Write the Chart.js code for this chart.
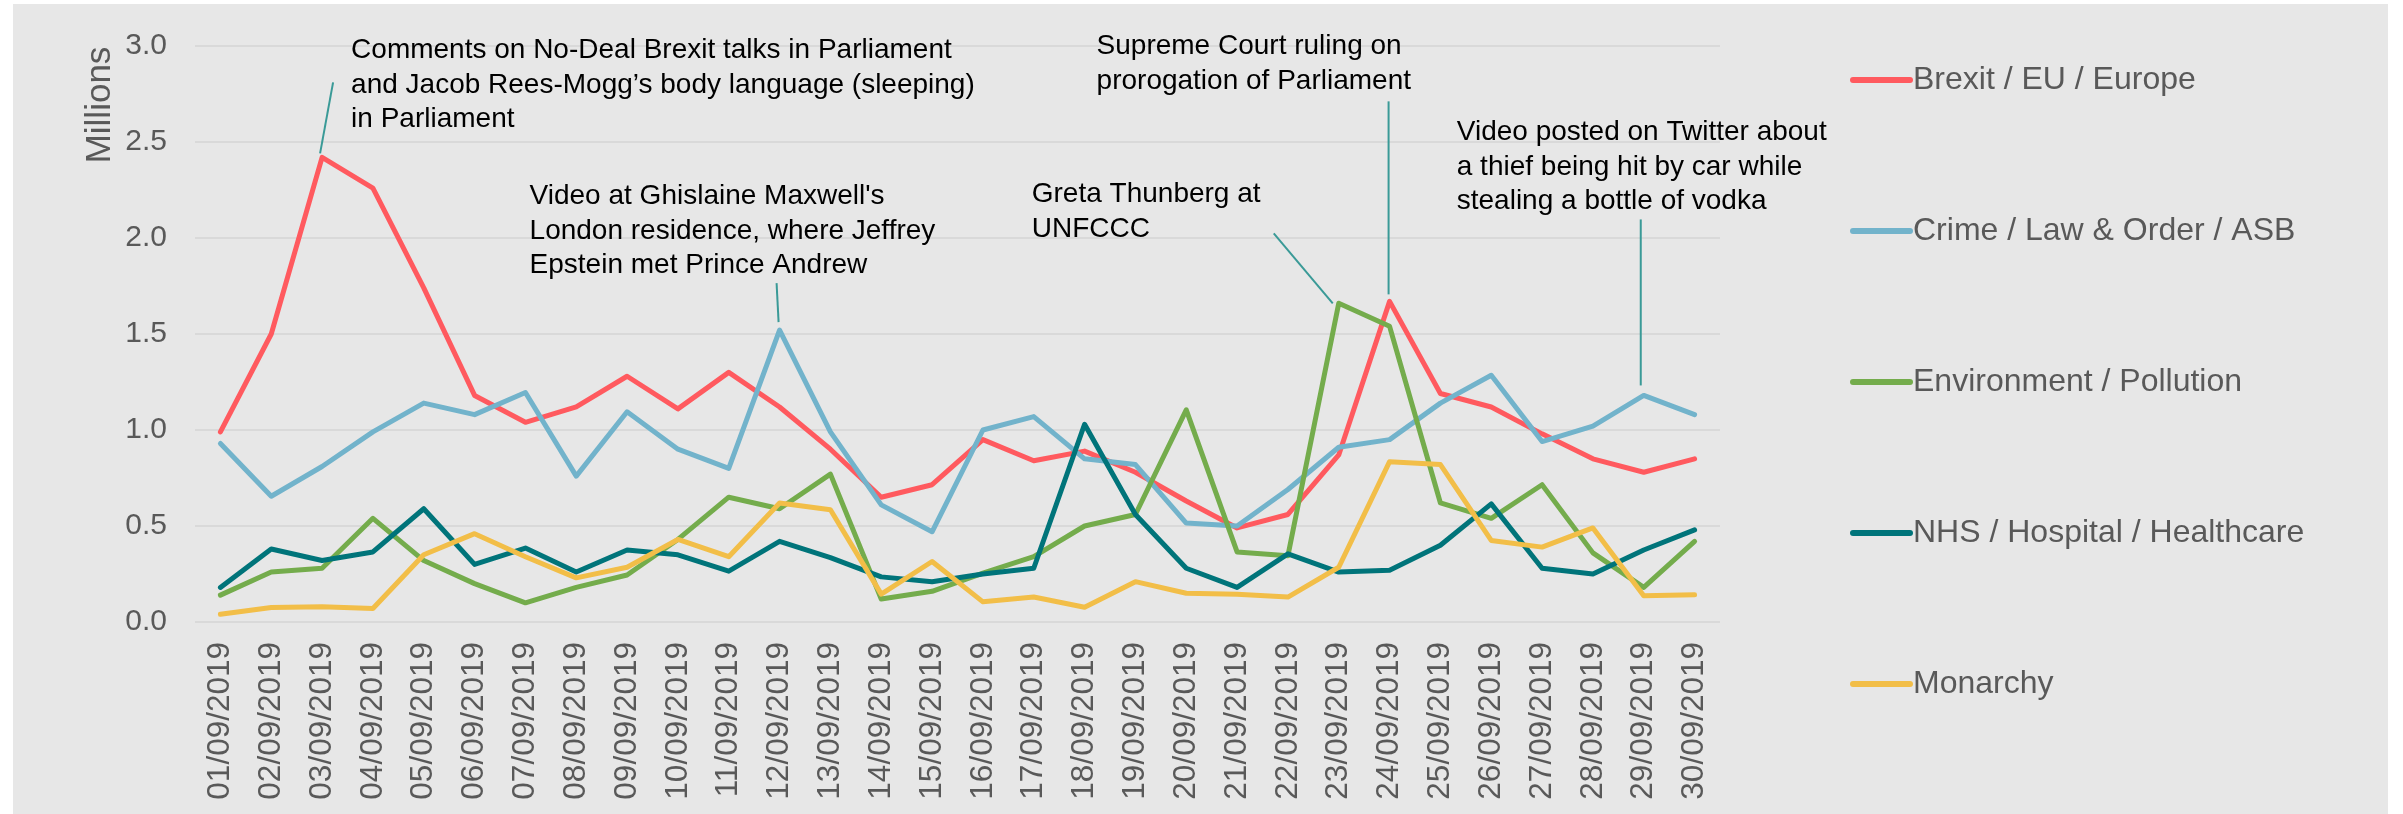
<!DOCTYPE html>
<html lang="en">
<head>
<meta charset="utf-8">
<title>Menciones por tema - septiembre 2019</title>
<script src="https://cdn.jsdelivr.net/npm/chart.js@4.4.1/dist/chart.umd.min.js"></script>
<style>
    html, body { margin: 0; padding: 0; background: #ffffff; overflow: hidden; }
    #grafico { display: block; }
</style>
</head>
<body>
<canvas id="grafico" width="2403" height="814"></canvas>
<script>
// Datos: fechas del eje X y millones de menciones por tema
const fechas = ["01/09/2019", "02/09/2019", "03/09/2019", "04/09/2019", "05/09/2019", "06/09/2019",
                "07/09/2019", "08/09/2019", "09/09/2019", "10/09/2019", "11/09/2019", "12/09/2019",
                "13/09/2019", "14/09/2019", "15/09/2019", "16/09/2019", "17/09/2019", "18/09/2019",
                "19/09/2019", "20/09/2019", "21/09/2019", "22/09/2019", "23/09/2019", "24/09/2019",
                "25/09/2019", "26/09/2019", "27/09/2019", "28/09/2019", "29/09/2019", "30/09/2019"];

const brexit = [0.99, 1.50, 2.42, 2.26, 1.74, 1.18, 1.04, 1.12, 1.28, 1.11, 1.30, 1.12, 0.90, 0.65, 0.715,
                0.95, 0.84, 0.89, 0.78, 0.63, 0.49, 0.56, 0.87, 1.67, 1.19, 1.12, 0.98, 0.85, 0.78, 0.85];
const crimen = [0.93, 0.655, 0.81, 0.99, 1.14, 1.08, 1.195, 0.76, 1.095, 0.90, 0.80, 1.52, 0.99, 0.61, 0.47,
                1.00, 1.07, 0.85, 0.82, 0.515, 0.50, 0.69, 0.91, 0.95, 1.14, 1.285, 0.94, 1.02, 1.18, 1.08];
const medioambiente = [0.14, 0.26, 0.28, 0.54, 0.32, 0.20, 0.10, 0.18, 0.245, 0.43, 0.65, 0.59, 0.77, 0.12, 0.16,
                0.255, 0.34, 0.50, 0.56, 1.105, 0.365, 0.345, 1.66, 1.54, 0.62, 0.54, 0.715, 0.36, 0.18, 0.42];
const sanidad = [0.18, 0.38, 0.32, 0.365, 0.59, 0.30, 0.385, 0.26, 0.375, 0.35, 0.265, 0.42, 0.335, 0.235, 0.21,
                0.25, 0.28, 1.03, 0.56, 0.28, 0.18, 0.355, 0.26, 0.27, 0.40, 0.615, 0.28, 0.25, 0.375, 0.48];
const monarquia = [0.04, 0.075, 0.08, 0.07, 0.35, 0.46, 0.34, 0.23, 0.285, 0.43, 0.34, 0.62, 0.585, 0.145, 0.315,
                0.105, 0.13, 0.077, 0.21, 0.15, 0.145, 0.13, 0.285, 0.835, 0.82, 0.425, 0.39, 0.49, 0.137, 0.142];

const temas = ["Brexit / EU / Europe", "Crime / Law & Order / ASB", "Environment / Pollution",
               "NHS / Hospital / Healthcare", "Monarchy"];
const colores = ["#ff5a5f", "#72b3cb", "#74ac4c", "#00747a", "#f2be48"];

// Marcas de eje Y (millones)
const ticksY = [0, 0.5, 1.0, 1.5, 2.0, 2.5, 3.0];

// Notas: serie, dia (indice), lineas de texto, desplazamiento del texto y de la guia respecto al punto
const notas = [
    { serie: 0, dia: 2, texto: [29, -99], guia: [11, -75, -2, -4],
      lineas: ["Comments on No-Deal Brexit talks in Parliament",
               "and Jacob Rees-Mogg\u2019s body language (sleeping)",
               "in Parliament"] },
    { serie: 1, dia: 11, texto: [-250, -126], guia: [-3, -47, -1, -8],
      lineas: ["Video at Ghislaine Maxwell's",
               "London residence, where Jeffrey",
               "Epstein met Prince Andrew"] },
    { serie: 2, dia: 22, texto: [-307, -101], guia: [-65, -70, -6, 0],
      lineas: ["Greta Thunberg at", "UNFCCC"] },
    { serie: 0, dia: 23, texto: [-293, -247], guia: [-1, -200, -1, -7],
      lineas: ["Supreme Court ruling on", "prorogation of Parliament"] },
    { serie: 1, dia: 28, texto: [-187, -255], guia: [-3, -176, -3, -10],
      lineas: ["Video posted on Twitter about",
               "a thief being hit by car while",
               "stealing a bottle of vodka"] }
];

const fuente = "'Liberation Sans', Arial, Helvetica, sans-serif";
const gris = "#595959";

Chart.defaults.font.family = fuente;

// Fondo gris con el borde blanco
const fondo = {
    id: "fondo",
    beforeDraw(chart) {
        const ctx = chart.ctx;
        ctx.save();
        ctx.fillStyle = "#ffffff";
        ctx.fillRect(0, 0, chart.width, chart.height);
        ctx.fillStyle = "#e7e7e7";
        ctx.fillRect(13, 4, 2375, chart.height - 4);
        ctx.restore();
    }
};

// Titulo del eje Y, leyenda a la derecha y notas con su guia
const extras = {
    id: "extras",
    afterDraw(chart) {
        const ctx = chart.ctx;
        const area = chart.chartArea;
        ctx.save();

        // "Millions" girado junto al eje
        ctx.translate(110, 105);
        ctx.rotate(-Math.PI / 2);
        ctx.fillStyle = gris;
        ctx.font = "35px " + fuente;
        ctx.textAlign = "center";
        ctx.textBaseline = "alphabetic";
        ctx.fillText("Millions", 0, 0);
        ctx.setTransform(1, 0, 0, 1, 0, 0);

        // Leyenda vertical
        const xLeyenda = area.right + 133;
        chart.data.datasets.forEach(function (ds, i) {
            const y = 80 + i * 151;
            ctx.strokeStyle = ds.borderColor;
            ctx.lineWidth = 6;
            ctx.lineCap = "round";
            ctx.beginPath();
            ctx.moveTo(xLeyenda, y);
            ctx.lineTo(xLeyenda + 57, y);
            ctx.stroke();
            ctx.fillStyle = gris;
            ctx.font = "32px " + fuente;
            ctx.textAlign = "left";
            ctx.textBaseline = "middle";
            ctx.fillText(ds.label, xLeyenda + 60, y);
        });

        // Notas
        ctx.font = "28px " + fuente;
        ctx.textAlign = "left";
        ctx.textBaseline = "alphabetic";
        notas.forEach(function (n) {
            const p = chart.getDatasetMeta(n.serie).data[n.dia];
            ctx.strokeStyle = "#3a9a97";
            ctx.lineWidth = 2;
            ctx.lineCap = "butt";
            ctx.beginPath();
            ctx.moveTo(p.x + n.guia[0], p.y + n.guia[1]);
            ctx.lineTo(p.x + n.guia[2], p.y + n.guia[3]);
            ctx.stroke();
            ctx.fillStyle = "#000000";
            n.lineas.forEach(function (txt, k) {
                ctx.fillText(txt, p.x + n.texto[0], p.y + n.texto[1] + k * 34.5);
            });
        });
        ctx.restore();
    }
};

function cargaGrafico() {
    const series = [brexit, crimen, medioambiente, sanidad, monarquia];
    const datos = {
        labels: fechas,
        datasets: series.map(function (valores, i) {
            return {
                label: temas[i],
                data: valores,
                borderColor: colores[i],
                backgroundColor: colores[i],
                borderWidth: 5,
                borderCapStyle: "round",
                borderJoinStyle: "round",
                pointRadius: 0,
                tension: 0,
                fill: false,
                order: series.length - i  // la ultima serie queda encima
            };
        })
    };

    const config = {
        type: "line",
        data: datos,
        options: {
            responsive: false,
            animation: false,
            devicePixelRatio: 1,
            layout: { padding: { top: 38, right: 683, bottom: 0, left: 0 } },
            plugins: {
                legend: { display: false },
                tooltip: { enabled: false },
                title: { display: false }
            },
            scales: {
                x: {
                    offset: true,
                    grid: { display: false, drawTicks: false },
                    border: { display: false },
                    ticks: {
                        autoSkip: false,
                        minRotation: 90,
                        maxRotation: 90,
                        padding: 20,
                        color: gris,
                        font: { size: 31.5 }
                    },
                    afterFit: function (s) { s.height = 192; }
                },
                y: {
                    min: ticksY[0],
                    max: ticksY[ticksY.length - 1],
                    afterBuildTicks: function (s) {
                        s.ticks = ticksY.map(function (v) { return { value: v }; });
                    },
                    grid: { color: "#d9d9d9", lineWidth: 2, drawTicks: false },
                    border: { display: false },
                    ticks: {
                        padding: 28,
                        color: gris,
                        font: { size: 30 },
                        callback: function (v) { return Number(v).toFixed(1); }
                    },
                    afterFit: function (s) { s.width = 195; }
                }
            }
        },
        plugins: [fondo, extras]
    };

    new Chart(document.getElementById("grafico").getContext("2d"), config);
}

cargaGrafico();
</script>
</body>
</html>
